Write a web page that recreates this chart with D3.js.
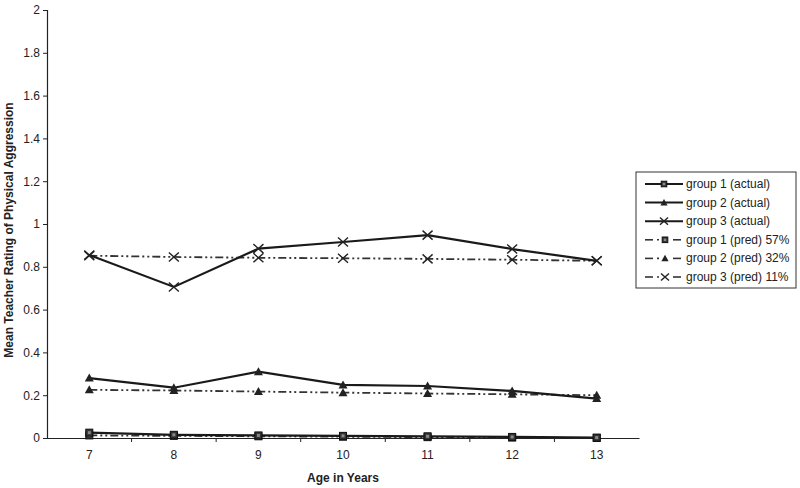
<!DOCTYPE html>
<html><head><meta charset="utf-8">
<script src="https://cdn.jsdelivr.net/npm/d3@7"></script>
<style>body{margin:0;background:#fff}svg{display:block;font-family:Arial,"Liberation Sans",sans-serif}</style>
</head><body><svg id="c" width="800" height="488"></svg>
<script>
const ages = ["7","8","9","10","11","12","13"];
const yTicks = [0,0.2,0.4,0.6,0.8,1,1.2,1.4,1.6,1.8,2];
const seriesNames = ["group 1 (actual)","group 2 (actual)","group 3 (actual)","group 1 (pred) 57%","group 2 (pred) 32%","group 3 (pred) 11%"];
const g1Actual = [0.025,0.015,0.012,0.01,0.008,0.005,0.002];
const g2Actual = [0.28,0.235,0.31,0.248,0.243,0.22,0.184];
const g3Actual = [0.855,0.706,0.885,0.916,0.948,0.883,0.828];
const g1Pred = [0.012,0.01,0.008,0.006,0.004,0.002,0.0];
const g2Pred = [0.225,0.222,0.217,0.212,0.208,0.204,0.2];
const g3Pred = [0.852,0.846,0.842,0.84,0.837,0.833,0.828];
const markers = ["square","triangle","x","square","triangle","x"];
const dashed = [false,false,false,true,true,true];
const data = [g1Actual,g2Actual,g3Actual,g1Pred,g2Pred,g3Pred];

const svg = d3.select("#c");
const L=47, R=639, T=10, B=438;
const x = d3.scaleBand().domain(ages).range([L,R]);
const y = d3.scaleLinear().domain([0,2]).range([B,T]);

// y axis
const ya = svg.append("g").attr("transform",`translate(${L},0)`)
  .call(d3.axisLeft(y).tickValues(yTicks).tickSize(4).tickFormat(d=>d3.format("~g")(d)));
ya.select(".domain").attr("stroke","#222").attr("stroke-width",1.2);
ya.selectAll(".tick line").attr("stroke","#222");
ya.selectAll("text").attr("font-size",12).attr("fill","#222").attr("x",-7);

// x axis
const xa = svg.append("g").attr("transform",`translate(0,${B})`)
  .call(d3.axisBottom(x).tickSize(0).tickPadding(12));
xa.select(".domain").attr("stroke","#222").attr("stroke-width",1.2);
xa.selectAll("text").attr("font-size",12).attr("fill","#222");
const bounds = ages.slice(1).map(a=>x(a));
svg.append("g").selectAll("line").data(bounds).join("line")
  .attr("x1",d=>d).attr("x2",d=>d).attr("y1",B).attr("y2",B+4).attr("stroke","#222");

// titles
svg.append("text").attr("x",343).attr("y",482).attr("text-anchor","middle")
  .attr("font-size",12).attr("font-weight","bold").attr("fill","#222").text("Age in Years");
svg.append("text").attr("transform","translate(13,230) rotate(-90)").attr("text-anchor","middle")
  .attr("font-size",12).attr("font-weight","bold").attr("fill","#222").text("Mean Teacher Rating of Physical Aggression");

function drawMarker(g, type, cx, cy, s){
  if(type==="square"){
    g.append("rect").attr("x",cx-3.5*s).attr("y",cy-3.5*s).attr("width",7*s).attr("height",7*s)
      .attr("fill","#333").attr("stroke","#111").attr("stroke-width",1);
    g.append("rect").attr("x",cx-1.5*s).attr("y",cy-1.5*s).attr("width",3*s).attr("height",3*s).attr("fill","#888");
  } else if(type==="triangle"){
    g.append("path").attr("d",`M${cx},${cy-4.5*s}L${cx+4.5*s},${cy+3.5*s}L${cx-4.5*s},${cy+3.5*s}Z`).attr("fill","#222");
  } else {
    g.append("path").attr("d",`M${cx-5*s},${cy-4.5*s}L${cx+5*s},${cy+4.5*s}M${cx-5*s},${cy+4.5*s}L${cx+5*s},${cy-4.5*s}`)
      .attr("stroke","#222").attr("stroke-width",1.4).attr("fill","none");
  }
}
const line = d3.line().x((d,i)=>x(ages[i])+x.bandwidth()/2).y(d=>y(d));
const order = [3,4,5,0,1,2];
order.forEach(k=>{
  const g = svg.append("g");
  g.append("path").datum(data[k]).attr("d",line).attr("fill","none")
    .attr("stroke",dashed[k]?"#333":"#1a1a1a").attr("stroke-width",dashed[k]?1.8:2.2)
    .attr("stroke-dasharray",dashed[k]?"8,3,2,3,2,3":null);
  data[k].forEach((v,i)=>drawMarker(g,markers[k],x(ages[i])+x.bandwidth()/2,y(v),1));
});

// legend
const lg = svg.append("g");
lg.append("rect").attr("x",636).attr("y",172).attr("width",160).attr("height",116)
  .attr("fill","#fff").attr("stroke","#333").attr("stroke-width",1);
seriesNames.forEach((n,k)=>{
  const yy = 184 + k*18.6;
  if(dashed[k]){
    lg.append("line").attr("x1",645).attr("x2",653).attr("y1",yy).attr("y2",yy).attr("stroke","#333").attr("stroke-width",1.6);
    lg.append("line").attr("x1",657).attr("x2",659).attr("y1",yy).attr("y2",yy).attr("stroke","#333").attr("stroke-width",1.6);
    lg.append("line").attr("x1",673).attr("x2",681).attr("y1",yy).attr("y2",yy).attr("stroke","#333").attr("stroke-width",1.6);
    drawMarker(lg,markers[k],665,yy,0.8);
  } else {
    lg.append("line").attr("x1",645).attr("x2",683).attr("y1",yy).attr("y2",yy).attr("stroke","#1a1a1a").attr("stroke-width",2);
    drawMarker(lg,markers[k],664,yy,0.8);
  }
  lg.append("text").attr("x",686).attr("y",yy+4).attr("font-size",12).attr("fill","#222").text(n);
});
</script></body></html>
